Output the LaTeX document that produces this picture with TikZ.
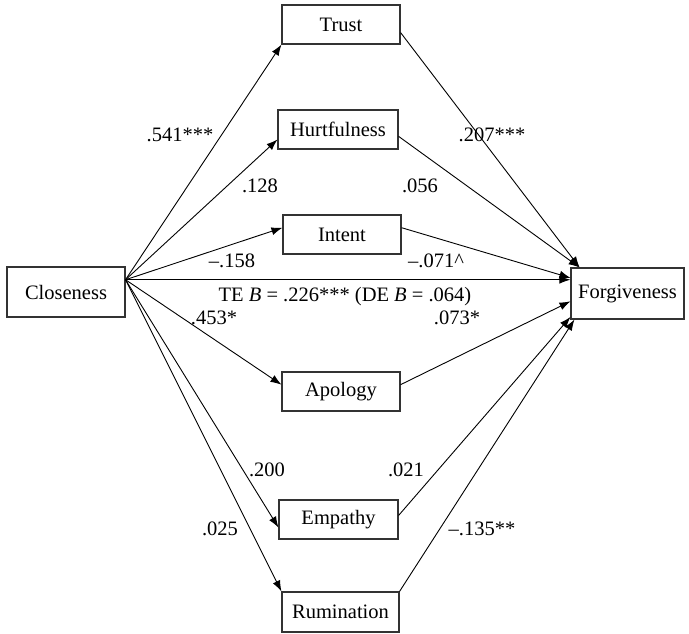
\documentclass[tikz,border=0pt]{standalone}
\usepackage{fontspec}
\setmainfont{Liberation Serif}
\usetikzlibrary{arrows.meta,calc}
\begin{document}
\begin{tikzpicture}[x=1pt,y=-1pt,
  box/.style={draw=black!80,line width=1.1pt,minimum height=39pt,inner sep=0pt,font=\fontsize{20.5}{24}\selectfont},
  lab/.style={inner sep=0pt,anchor=base,font=\fontsize{20.5}{24}\selectfont},
  conn/.style={line width=0.9pt,-{Latex[length=11pt,width=8pt]}}]
\useasboundingbox (0,0) rectangle (689,633);
% nodes
\node[box,minimum width=118pt,minimum height=50pt] (clo) at (66,292) {Closeness};
\node[box,minimum width=113pt,minimum height=51pt] (forg) at (627.5,293.5) {Forgiveness};
\node[box,minimum width=118pt] (trust) at (341,24.5) {Trust};
\node[box,minimum width=120pt] (hurt) at (338,129.5) {Hurtfulness};
\node[box,minimum width=118pt] (intent) at (342,234.5) {Intent};
\node[box,minimum width=118pt] (apol) at (341,391.5) {Apology};
\node[box,minimum width=119pt] (emp) at (338.5,519.5) {Empathy};
\node[box,minimum width=117pt,minimum height=40pt] (rum) at (340.5,612) {Rumination};
% source point
\coordinate (src) at ($(clo.north east)!0.26!(clo.south east)$);
% closeness -> mediators
\draw[conn] (src) -- (trust.south west);
\draw[conn] (src) -- ($(hurt.north west)!0.75!(hurt.south west)$);
\draw[conn] (src) -- ($(intent.north west)!0.33!(intent.south west)$);
\draw[conn] (src) -- ($(apol.north west)!0.33!(apol.south west)$);
\draw[conn] (src) -- ($(emp.north west)!0.7!(emp.south west)$);
\draw[conn] (src) -- (rum.north west);
% direct
\draw[conn] (src) -- (src -| forg.west);
% mediators -> forgiveness
\coordinate (ftop) at ($(forg.north west)!0.08!(forg.north east)$);
\draw[conn] ($(trust.north east)!0.7!(trust.south east)$) -- (ftop);
\draw[conn] ($(hurt.north east)!0.67!(hurt.south east)$) -- (ftop);
\draw[conn] ($(intent.north east)!0.33!(intent.south east)$) -- ($(forg.north west)!0.2!(forg.south west)$);
\draw[conn] ($(apol.north east)!0.33!(apol.south east)$) -- ($(forg.north west)!0.65!(forg.south west)$);
\draw[conn] ($(emp.north east)!0.4!(emp.south east)$) -- ($(forg.north west)!0.95!(forg.south west)$);
\draw[conn] (rum.north east) -- ($(forg.south west)+(4,0)$);
% labels
\node[lab] (l1) at (180,141) {.541***};
\node[lab] (l2) at (492,141) {.207***};
\node[lab] (l3) at (260,192) {.128};
\node[lab] (l4) at (420,192) {.056};
\node[lab] (l5) at (232,267) {\textendash.158};
\node[lab] (l6) at (436,267) {\textendash.071\textasciicircum};
\node[lab] (l7) at (345,301) {TE \textit{B} = .226*** (DE \textit{B} = .064)};
\node[lab] (l8) at (214,324) {.453*};
\node[lab] (l9) at (457,324) {.073*};
\node[lab] (l10) at (267,476) {.200};
\node[lab] (l11) at (406,476) {.021};
\node[lab] (l12) at (220,535) {.025};
\node[lab] (l13) at (482,535) {\textendash.135**};
\end{tikzpicture}
\end{document}
